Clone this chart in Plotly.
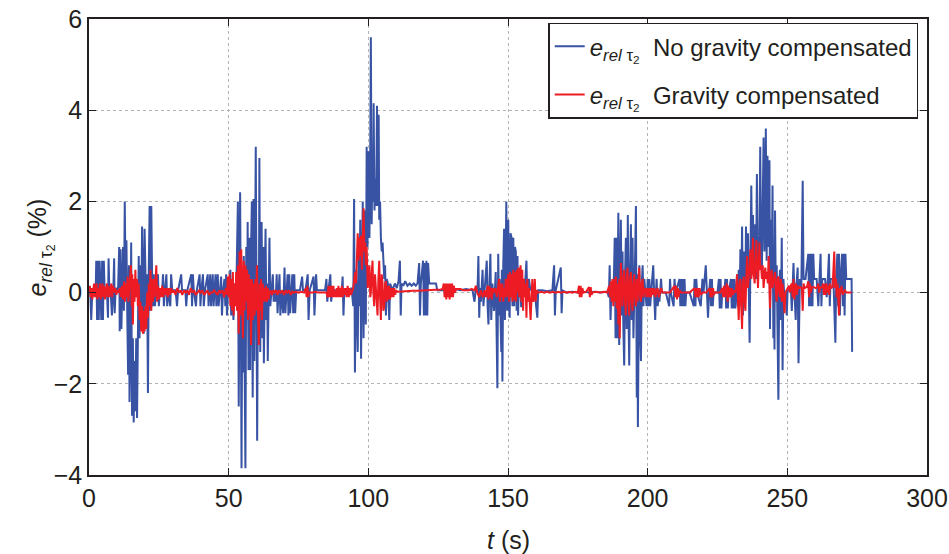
import plotly.graph_objects as go

# e_rel tau2 (%) without gravity compensation, (t [s], value)
blue_0_50 = [(0.0, 0.05), (0.4, 0.1), (0.8, -0.6), (1.2, 0.05), (1.8, 0.1), (2.4, 0.05), (2.6, 0.7), (2.9, -0.6),
             (3.2, 0.7), (3.5, -0.6), (3.8, 0.7), (4.1, 0.05), (4.4, -0.6), (4.7, 0.7), (5.0, -0.6), (5.3, 0.7),
             (5.6, 0.05), (6.0, 0.1), (6.4, 0.05), (6.8, -0.55), (7.0, 0.75), (7.3, 0.05), (7.7, 0.1), (8.2, -0.5),
             (8.7, 0.05), (9.0, 0.75), (9.2, -0.45), (9.5, 0.05), (9.9, 0.1), (10.4, 0.05), (10.8, 1.0), (11.0, -0.85),
             (11.3, 0.95), (11.6, -0.8), (11.9, 0.3), (12.2, 1.0), (12.5, -0.4), (12.8, 2.0), (13.1, 0.2), (13.4, 1.15),
             (13.7, -0.5), (14.0, -1.8), (14.3, 0.6), (14.5, -2.4), (14.8, -1.2), (15.1, 1.1), (15.4, -2.7), (15.7, -1.0),
             (16.0, -2.85), (16.3, -1.5), (16.6, -2.6), (16.9, -1.0), (17.2, -2.75), (17.5, -0.7), (17.8, 0.8), (18.1, -1.0),
             (18.4, 0.6), (18.7, -0.8), (19.0, 1.45), (19.3, 0.2), (19.6, -0.9), (19.9, 1.4), (20.2, 0.3), (20.5, -0.5),
             (20.8, 0.4), (21.1, -2.2), (21.4, 0.5), (21.7, 1.9), (22.0, -0.4), (22.3, 1.9), (22.6, 0.3), (22.9, -0.3),
             (23.2, 0.4), (23.6, -0.3), (24.0, 0.05), (24.4, 0.05), (24.7, 0.4), (25.0, -0.3), (25.4, 0.05), (26.2, 0.05),
             (26.5, 0.4), (26.8, -0.3), (27.2, 0.05), (27.7, 0.4), (28.0, -0.3), (28.4, 0.05), (29.1, -0.3), (29.4, 0.4),
             (29.8, 0.05), (31.0, 0.05), (31.5, -0.3), (31.9, 0.05), (33.0, 0.4), (33.3, 0.05), (34.5, 0.05), (34.8, -0.3),
             (35.2, 0.05), (36.6, 0.4), (36.9, -0.3), (37.2, 0.4), (37.5, 0.05), (38.3, -0.3), (38.6, 0.05), (39.6, 0.4),
             (39.9, -0.3), (40.2, 0.05), (40.8, 0.4), (41.1, -0.3), (41.5, 0.05), (42.5, 0.4), (42.8, -0.3), (43.1, 0.05),
             (43.4, 0.4), (43.7, -0.3), (44.0, 0.05), (44.3, 0.4), (44.6, -0.3), (45.0, 0.05), (45.3, 0.4), (45.6, -0.3),
             (45.9, 0.05), (46.1, 0.4), (46.4, -0.3), (46.8, 0.05), (47.3, 0.35), (47.6, -0.5), (48.0, 0.05), (48.5, 0.3),
             (48.8, -0.3), (49.1, 0.4), (49.4, -0.5), (49.8, 0.05)]

blue_50_83 = [(50.2, 0.05), (50.6, 0.5), (50.9, -0.5), (51.3, 0.3), (51.7, -0.6), (52.1, 0.2), (52.5, -0.2), (52.9, 0.6),
              (53.3, 2.0), (53.6, -2.5), (53.9, -0.3), (54.1, 2.2), (54.4, -1.0), (54.6, -3.85), (54.9, 0.5), (55.1, -1.75),
              (55.4, 0.8), (55.7, -1.2), (56.0, -3.85), (56.3, 1.0), (56.6, -0.5), (56.8, 1.55), (57.1, -1.7), (57.4, 1.2),
              (57.7, -1.7), (58.0, 0.9), (58.3, 2.0), (58.6, -2.3), (58.9, 2.05), (59.2, -1.5), (59.5, 1.0), (59.7, 3.2),
              (60.0, -0.5), (60.2, -3.25), (60.5, 0.6), (60.8, -0.8), (61.0, 2.95), (61.3, -1.3), (61.6, 0.8), (61.8, 1.55),
              (62.1, -1.0), (62.4, 1.0), (62.6, -1.55), (62.9, 0.3), (63.2, 1.4), (63.5, -0.6), (63.8, 0.2), (64.0, -1.5),
              (64.3, 0.3), (64.6, 1.2), (64.9, -0.3), (65.3, 0.1), (65.8, 0.4), (66.1, -0.2), (66.5, 0.05), (66.8, -0.2),
              (67.2, 0.4), (67.5, -0.45), (67.9, 0.05), (68.2, 0.4), (68.5, -0.5), (68.9, 0.05), (69.5, -0.45), (70.0, 0.55),
              (70.3, -0.45), (70.7, 0.05), (71.1, 0.4), (71.4, -0.5), (71.7, 0.4), (72.0, -0.45), (72.4, 0.05), (72.8, 0.4),
              (73.1, -0.45), (73.5, 0.4), (73.8, -0.45), (74.2, 0.05), (75.5, 0.05), (76.3, 0.35), (76.6, 0.05), (77.5, 0.05),
              (78.3, 0.4), (78.6, -0.6), (79.0, 0.05), (80.4, 0.35), (80.7, -0.5), (81.0, 0.05), (81.3, 0.4), (81.6, 0.05),
              (83.0, 0.05)]

blue_83_128 = [(84.5, 0.05), (85.0, 0.3), (85.3, -0.2), (85.7, 0.05), (86.4, 0.4), (86.7, -0.2), (87.1, 0.05), (88.5, 0.05),
               (90.5, 0.05), (90.8, 0.35), (91.1, -0.5), (91.4, 0.05), (93.0, 0.05), (94.0, 0.1), (94.6, -0.3), (94.9, 2.05),
               (95.2, -1.75), (95.6, 0.5), (95.9, -0.6), (96.2, -1.3), (96.5, 0.8), (96.8, -0.3), (97.1, 1.6), (97.4, -1.45),
               (97.7, 0.5), (98.0, 2.0), (98.3, -1.0), (98.6, 1.8), (98.9, 0.2), (99.1, -0.7), (99.4, 3.2), (99.7, 1.0),
               (100.1, 3.1), (100.4, 1.2), (100.7, 3.3), (100.9, 5.6), (101.2, 1.5), (101.5, 3.0), (101.7, 2.0), (101.9, 4.15),
               (102.2, 1.8), (102.5, 2.5), (102.8, 1.9), (103.1, 4.1), (103.4, 1.9), (103.7, 3.9), (103.9, 1.6), (104.2, 2.0),
               (104.5, 1.2), (104.8, 0.9), (105.1, 1.1), (105.4, 0.8), (105.7, 0.3), (106.0, 0.6), (106.3, -0.5), (106.6, 0.3),
               (107.0, 0.2), (107.5, -0.6), (107.8, 0.2), (108.1, 0.15), (108.6, 0.05), (109.5, 0.2), (110.2, 0.1), (110.8, 0.25),
               (111.3, 0.7), (111.6, -0.5), (111.9, 0.2), (112.5, 0.15), (113.2, 0.25), (114.0, 0.15), (114.8, 0.2), (115.5, 0.15),
               (116.3, 0.2), (117.0, 0.15), (117.6, 0.2), (118.2, 0.65), (118.5, -0.5), (118.8, 0.2), (119.6, 0.7), (119.9, -0.5),
               (120.2, 0.65), (120.5, -0.5), (120.8, 0.7), (121.1, -0.5), (121.4, 0.65), (121.8, 0.2), (122.5, 0.2), (123.3, 0.2),
               (124.2, 0.2), (124.7, 0.05), (126.0, 0.05), (127.5, 0.05)]

blue_128_175 = [(129.0, 0.05), (131.0, 0.08), (133.0, 0.05), (135.0, 0.08), (137.3, 0.05), (138.0, -0.2), (138.5, 0.1),
                (139.1, 0.05), (139.4, 0.8), (139.7, -0.55), (140.0, 0.1), (140.3, -0.2), (140.9, 0.5), (141.2, -0.3),
                (141.6, 0.1), (142.1, 0.5), (142.4, 0.7), (142.7, -0.3), (143.0, -0.7), (143.4, 0.3), (143.7, 0.85),
                (144.0, -0.6), (144.4, 0.2), (145.0, -0.4), (145.3, 0.3), (145.6, 0.45), (145.9, -0.8), (146.2, -2.1),
                (146.5, 0.85), (146.8, -0.5), (147.0, 0.3), (147.3, -0.9), (147.6, -1.3), (147.8, 0.5), (148.0, -1.95),
                (148.3, 0.6), (148.6, 1.4), (148.9, -0.6), (149.2, 1.6), (149.4, 2.0), (149.7, -0.4), (150.1, 1.6),
                (150.3, -0.2), (150.6, -0.55), (150.9, 1.3), (151.3, 1.2), (151.6, -0.3), (151.9, 1.2), (152.2, -0.3),
                (152.5, 1.0), (152.8, 0.9), (153.1, -0.4), (153.4, 0.8), (153.6, -0.5), (154.0, 0.5), (154.3, 0.4),
                (154.7, -0.3), (155.1, -0.3), (155.5, 0.3), (156.0, 0.05), (156.6, 0.7), (156.9, -0.1), (157.5, 0.3),
                (158.0, 0.05), (158.7, 0.1), (159.5, 0.05), (160.5, -0.55), (160.8, 0.05), (162.3, 0.05), (164.0, 0.03),
                (165.9, 0.05), (166.5, 0.6), (166.8, -0.5), (167.1, 0.05), (168.9, 0.55), (169.2, -0.45), (169.5, 0.05),
                (171.0, 0.0), (173.0, 0.02), (175.0, 0.0)]

blue_175_225 = [(177.0, 0.02), (179.0, 0.0), (181.0, 0.02), (183.0, 0.0), (185.6, 0.02), (186.1, -0.1), (186.4, 0.6),
                (186.7, -0.6), (187.0, 0.05), (187.4, -0.1), (187.9, 0.3), (188.2, 1.2), (188.5, -1.0), (188.8, 1.2),
                (189.1, -1.0), (189.5, 1.75), (189.8, -1.15), (190.1, 0.6), (190.4, 1.6), (190.7, -0.5), (191.0, 0.9),
                (191.3, -0.8), (191.6, -1.6), (191.9, 0.4), (192.2, 1.2), (192.5, -0.8), (192.9, 1.7), (193.1, -0.3),
                (193.4, -1.6), (193.7, 0.5), (194.0, 1.5), (194.3, -0.6), (194.6, 1.2), (194.9, -1.0), (195.2, -0.3),
                (195.5, 0.8), (195.8, 1.9), (196.1, -2.3), (196.3, 0.4), (196.5, -2.95), (196.8, -0.5), (197.0, 0.6),
                (197.3, -0.8), (197.6, -1.5), (197.9, 0.2), (198.2, 0.6), (198.5, -0.3), (198.8, 0.3), (199.2, 0.0),
                (199.6, -0.3), (200.0, 0.3), (200.3, -0.3), (200.6, 0.3), (200.9, -0.3), (201.3, 0.05), (202.0, 0.6),
                (202.3, 0.0), (202.7, -0.6), (203.0, 0.05), (203.2, 0.3), (203.6, -0.3), (204.0, 0.05), (204.2, -0.2),
                (204.8, 0.3), (205.1, 0.0), (206.5, 0.0), (207.7, -0.3), (208.0, 0.3), (208.3, 0.0), (209.3, -0.3),
                (209.6, 0.3), (210.0, 0.0), (211.4, 0.3), (211.7, -0.3), (212.0, 0.3), (212.3, -0.3), (212.6, 0.3),
                (212.9, -0.3), (213.2, 0.3), (213.5, -0.3), (213.8, 0.0), (215.0, 0.0), (216.5, -0.3), (216.8, 0.3),
                (217.1, -0.3), (217.4, 0.3), (217.7, 0.0), (219.0, -0.3), (219.6, 0.3), (220.0, 0.0), (220.8, 0.6),
                (221.2, 0.0), (221.6, -0.55), (222.0, 0.0), (222.4, 0.3), (222.7, -0.3), (223.0, 0.3), (223.3, -0.3),
                (223.6, 0.0), (225.0, 0.0)]

blue_225_274 = [(225.5, 0.3), (225.8, -0.35), (226.1, 0.3), (226.4, -0.35), (226.7, 0.0), (227.5, 0.0), (227.8, 0.3),
                (228.1, -0.35), (228.4, 0.3), (228.7, -0.35), (229.0, 0.0), (229.8, 0.3), (230.1, -0.35), (230.4, 0.3),
                (230.7, -0.35), (231.0, 0.3), (231.4, -0.35), (231.7, 0.0), (232.0, 0.4), (232.3, -0.3), (232.6, 0.5),
                (232.9, -0.3), (233.2, 0.95), (233.5, -0.15), (233.8, 1.45), (234.1, -0.5), (234.4, 0.9), (234.7, -0.3),
                (235.0, 0.2), (235.2, 1.45), (235.5, 0.2), (235.9, 1.3), (236.2, 0.0), (236.5, -1.1), (236.8, 0.8),
                (237.1, 2.35), (237.4, 0.6), (237.7, 1.7), (238.0, 0.4), (238.5, 1.5), (238.8, 0.3), (239.1, 2.6),
                (239.4, 0.5), (239.7, 0.6), (240.0, 1.2), (240.3, 3.2), (240.6, 0.8), (240.9, 0.5), (241.2, 2.0),
                (241.5, 3.4), (241.8, 0.9), (242.1, 1.5), (242.3, 3.6), (242.6, 0.7), (242.9, 3.0), (243.1, 1.5),
                (243.3, 1.0), (243.6, 2.9), (243.8, -0.8), (244.1, 1.6), (244.4, 0.2), (244.7, 2.35), (245.0, -1.0),
                (245.2, 1.0), (245.4, -1.25), (245.6, 1.8), (245.9, -0.2), (246.2, 0.6), (246.5, -0.8), (246.8, -2.35),
                (247.1, 0.2), (247.4, 0.5), (247.7, -0.6), (248.0, 1.2), (248.3, -1.7), (248.6, 0.3), (249.0, -0.2),
                (249.4, 0.0), (249.8, -0.5), (250.1, 0.05), (250.8, 0.05), (251.3, 0.05), (251.6, -0.4), (251.9, 0.1),
                (252.2, 0.65), (252.5, 0.05), (253.0, -0.6), (253.3, 0.2), (253.7, 0.55), (254.0, -1.55), (254.3, 0.1),
                (254.5, 0.3), (255.0, 0.1), (255.5, 2.45), (255.8, 0.3), (256.5, 0.3), (257.5, 0.85), (257.8, -0.3),
                (258.1, 0.85), (258.4, -0.3), (258.7, 0.85), (259.0, -0.3), (259.3, 0.85), (259.6, 0.3), (260.5, 0.3),
                (261.1, -0.3), (261.5, 0.3), (261.9, 0.85), (262.2, -0.3), (262.5, 0.3), (263.5, 0.3), (264.1, -0.1),
                (264.5, 0.3), (264.9, 0.85), (265.2, -0.3), (265.5, 0.3), (266.5, 0.3), (267.2, -1.1), (267.5, 0.3),
                (267.9, 0.85), (268.2, -0.3), (268.5, 0.85), (268.8, -0.5), (269.1, 0.3), (269.6, 0.85), (269.9, -0.3),
                (270.2, 0.85), (270.5, -0.5), (270.8, 0.85), (271.1, 0.3), (272.0, 0.3), (273.0, 0.3), (273.2, -1.3)]

# e_rel tau2 (%) with gravity compensation
red_0_50 = [(0.0, 0.0), (0.3, 0.15), (0.6, -0.1), (0.9, 0.1), (1.2, -0.15), (1.5, 0.05), (1.8, 0.2), (2.1, -0.1),
            (2.4, 0.05), (2.7, 0.2), (3.0, -0.15), (3.3, 0.1), (3.6, -0.1), (3.9, 0.2), (4.2, -0.15), (4.5, 0.05),
            (4.8, 0.2), (5.1, -0.1), (5.4, 0.15), (5.7, -0.15), (6.0, 0.05), (6.4, 0.2), (6.7, -0.1), (7.0, 0.15),
            (7.3, -0.1), (7.6, 0.05), (8.0, 0.2), (8.3, -0.1), (8.6, 0.15), (9.0, 0.0), (9.4, 0.1), (9.8, -0.05),
            (10.2, 0.05), (10.6, 0.0), (11.0, 0.1), (11.4, -0.1), (11.8, 0.15), (12.2, -0.15), (12.6, 0.25), (12.9, -0.2),
            (13.2, 0.2), (13.5, -0.1), (13.8, 0.35), (14.1, -0.2), (14.4, 0.1), (14.7, 0.5), (15.0, 0.6), (15.3, -0.3),
            (15.5, 0.4), (15.7, -0.7), (16.0, 0.3), (16.3, -0.2), (16.6, 0.5), (16.9, -0.1), (17.2, 0.3), (17.5, -0.3),
            (17.8, 0.2), (18.1, -0.6), (18.4, -0.2), (18.7, -0.85), (19.0, -0.3), (19.3, -0.9), (19.6, -0.4), (19.9, -0.85),
            (20.2, -0.3), (20.5, -0.8), (20.8, 0.0), (21.1, -0.55), (21.4, 0.2), (21.7, -0.3), (22.0, 0.5), (22.3, -0.4),
            (22.6, 0.3), (22.9, -0.2), (23.2, 0.3), (23.5, -0.1), (23.8, 0.2), (24.1, 0.6), (24.4, -0.2), (24.7, 0.15),
            (25.0, -0.15), (25.4, 0.1), (25.8, -0.1), (26.2, 0.15), (26.6, -0.1), (27.0, 0.1), (27.4, -0.05), (27.8, 0.1),
            (28.2, -0.1), (28.6, 0.1), (29.0, -0.05), (29.4, 0.1), (29.8, 0.0), (30.4, 0.05), (31.0, -0.05), (31.6, 0.1),
            (32.2, 0.0), (32.8, 0.05), (33.4, -0.05), (34.0, 0.05), (34.6, 0.0), (35.2, 0.05), (35.8, -0.05), (36.4, 0.1),
            (37.0, 0.0), (37.6, 0.05), (38.2, -0.05), (38.8, 0.0), (39.4, 0.05), (40.0, 0.0), (40.6, 0.05), (41.2, -0.05),
            (41.8, 0.0), (42.4, 0.05), (43.0, -0.05), (43.6, 0.0), (44.2, 0.0), (44.8, 0.05), (45.4, 0.0), (46.0, -0.05),
            (46.6, 0.05), (47.2, 0.0), (47.8, 0.05), (48.4, -0.1), (49.0, 0.1), (49.4, -0.05), (49.7, 0.35)]

red_50_95 = [(50.0, -0.1), (50.3, 0.4), (50.6, -0.3), (50.9, 0.3), (51.2, -0.4), (51.5, 0.45), (51.8, -0.5), (52.1, 0.2),
             (52.4, -0.3), (52.7, 0.45), (53.0, -0.4), (53.3, 0.6), (53.6, -0.9), (53.9, 0.9), (54.2, -0.5), (54.5, 0.95),
             (54.8, -0.3), (55.1, -1.0), (55.4, 0.7), (55.7, -0.4), (56.0, 0.6), (56.3, -0.2), (56.6, 0.5), (56.9, -0.6),
             (57.2, 0.4), (57.4, -0.5), (57.7, 0.3), (58.0, -1.15), (58.3, 0.3), (58.6, -0.6), (58.9, 0.2), (59.3, -0.5),
             (59.6, 0.3), (59.9, -0.4), (60.1, 0.6), (60.4, -0.3), (60.8, -1.15), (61.1, 0.2), (61.4, -0.4), (61.6, 0.3),
             (61.9, -0.6), (62.2, 0.2), (62.5, -0.2), (62.8, 0.1), (63.1, -0.2), (63.4, 0.15), (63.7, -0.2), (64.0, 0.1),
             (64.3, -0.15), (64.6, 0.0), (65.0, 0.05), (65.5, -0.05), (66.0, 0.05), (66.5, 0.0), (67.0, 0.05), (67.5, -0.05),
             (68.0, 0.05), (68.6, 0.0), (69.2, 0.05), (69.8, -0.05), (70.4, 0.05), (71.0, 0.0), (71.6, 0.05), (72.2, -0.05),
             (72.8, 0.02), (73.4, 0.0), (74.0, 0.02), (75.0, 0.0), (76.0, 0.02), (77.0, 0.0), (77.6, 0.1), (77.9, -0.1),
             (78.2, 0.15), (78.5, -0.1), (78.8, 0.0), (80.0, 0.0), (81.0, 0.02), (82.0, 0.0), (83.0, 0.0), (84.0, 0.0),
             (85.0, 0.0), (85.4, -0.1), (85.7, 0.15), (86.0, -0.1), (86.3, 0.15), (86.6, -0.1), (86.9, 0.15), (87.2, -0.1),
             (87.5, 0.15), (87.8, -0.1), (88.1, 0.05), (88.4, -0.1), (88.7, 0.1), (89.0, -0.1), (89.3, 0.15), (89.6, -0.1),
             (89.9, 0.1), (90.2, -0.1), (90.5, 0.15), (90.8, -0.1), (91.1, 0.1), (91.4, -0.05), (91.8, 0.1), (92.2, -0.1),
             (92.6, 0.15), (93.0, -0.1), (93.4, 0.1), (93.8, -0.05), (94.2, 0.05), (94.6, 0.1), (95.0, 0.3)]

red_95_160 = [(95.3, 0.45), (95.6, 0.2), (95.9, 1.0), (96.2, 1.3), (96.5, 0.7), (96.8, 1.2), (97.1, 0.8), (97.4, 1.25),
              (97.7, 0.5), (98.0, 1.4), (98.3, 1.85), (98.6, 0.9), (98.9, 1.1), (99.1, 0.6), (99.4, 1.0), (99.8, 0.1),
              (100.1, 0.5), (100.4, 0.6), (100.7, -0.1), (100.9, 0.0), (101.2, 0.4), (101.5, 0.7), (101.8, 0.0), (102.1, -0.3),
              (102.4, 0.4), (102.7, 0.15), (103.0, -0.2), (103.3, -0.5), (103.6, 0.3), (103.9, 0.7), (104.2, -0.1),
              (104.5, -0.6), (104.8, 0.4), (105.1, 0.2), (105.4, -0.4), (105.7, -0.3), (106.0, 0.2), (106.3, 0.25),
              (106.6, -0.2), (106.9, 0.15), (107.2, -0.15), (107.5, 0.15), (107.8, -0.15), (108.1, 0.1), (108.4, -0.1),
              (108.7, 0.1), (109.0, -0.1), (109.3, 0.1), (109.6, -0.05), (109.9, 0.05), (110.4, 0.02), (112.0, 0.03),
              (114.0, 0.03), (116.0, 0.04), (118.0, 0.04), (120.0, 0.05), (122.0, 0.05), (124.0, 0.06), (125.4, 0.06),
              (126.6, 0.08), (127.0, 0.2), (127.3, -0.1), (127.6, 0.2), (127.9, -0.15), (128.2, 0.2), (128.5, -0.1),
              (128.8, 0.2), (129.1, -0.15), (129.4, 0.2), (129.7, -0.1), (130.0, 0.2), (130.3, -0.1), (130.6, 0.15),
              (131.0, 0.0), (131.5, 0.08), (133.0, 0.08), (134.0, 0.05), (135.0, 0.05), (136.0, 0.05), (137.0, 0.08),
              (138.0, 0.05), (138.5, 0.15), (139.0, 0.0), (139.7, -0.1), (140.3, 0.05), (141.0, -0.1), (141.6, 0.05),
              (142.1, -0.1), (142.7, 0.15), (143.0, -0.15), (143.3, 0.15), (143.6, -0.1), (143.9, 0.1), (144.2, -0.15),
              (144.5, 0.1), (145.0, 0.0), (145.5, 0.1), (146.0, -0.1), (146.4, 0.2), (146.8, 0.3), (147.1, -0.2),
              (147.4, 0.2), (147.7, -0.1), (148.0, 0.2), (148.3, -0.2), (148.6, 0.1), (148.9, -0.1), (149.2, 0.3),
              (149.5, -0.1), (149.8, 0.2), (150.1, 0.4), (150.4, -0.2), (150.7, 0.45), (151.0, -0.1), (151.3, 0.4),
              (151.6, -0.2), (151.9, 0.5), (152.2, -0.15), (152.5, 0.45), (152.8, -0.2), (153.1, 0.5), (153.4, 0.0),
              (153.7, 0.55), (154.0, -0.1), (154.3, 0.4), (154.5, 0.6), (154.8, -0.2), (155.1, 0.5), (155.4, -0.4),
              (155.7, 0.3), (156.0, -0.1), (156.3, 0.2), (156.6, -0.55), (156.9, 0.3), (157.2, -0.2), (157.5, 0.1),
              (158.1, -0.6), (158.4, 0.1), (158.7, 0.3), (159.0, -0.2), (159.3, -0.1), (159.6, 0.3), (159.9, -0.2),
              (160.2, 0.05)]

red_160_226 = [(160.8, 0.0), (162.0, 0.02), (163.0, 0.0), (164.0, 0.02), (165.0, 0.0), (166.0, 0.02), (167.0, 0.0),
               (168.0, 0.02), (169.0, 0.0), (170.0, 0.02), (171.0, 0.0), (172.0, 0.02), (173.0, 0.0), (174.0, 0.02),
               (175.0, 0.0), (175.4, 0.15), (175.7, -0.1), (176.0, 0.15), (176.3, -0.1), (176.6, 0.1), (177.0, 0.0),
               (178.0, 0.02), (179.0, 0.12), (179.3, -0.1), (179.6, 0.12), (179.9, -0.05), (180.2, 0.0), (181.5, 0.02),
               (183.0, 0.0), (184.5, 0.02), (185.5, 0.0), (186.2, 0.15), (186.5, -0.1), (186.8, 0.25), (187.1, -0.2),
               (187.4, 0.3), (187.7, -0.3), (188.0, 0.3), (188.3, -0.2), (188.6, 0.35), (188.9, -0.35), (189.2, 0.2),
               (189.5, -0.7), (189.8, 0.3), (190.0, -1.0), (190.4, 0.65), (190.7, -0.2), (191.0, -0.3), (191.3, 0.3),
               (191.6, 0.5), (191.9, -0.2), (192.2, -0.5), (192.5, 0.3), (192.8, 0.55), (193.1, -0.2), (193.4, -0.5),
               (193.7, 0.3), (194.0, 0.45), (194.3, -0.2), (194.6, -0.4), (194.9, 0.2), (195.2, 0.4), (195.5, -0.1),
               (195.8, -0.3), (196.1, 0.3), (196.4, -0.2), (196.7, 0.3), (197.0, 0.55), (197.3, -0.1), (197.6, -0.2),
               (197.9, 0.2), (198.2, 0.3), (198.5, -0.1), (198.8, 0.05), (199.2, 0.1), (199.6, -0.1), (200.0, 0.1),
               (200.4, -0.1), (200.8, 0.1), (201.2, -0.1), (201.6, 0.1), (202.0, -0.05), (202.4, 0.1), (202.8, -0.1),
               (203.2, 0.05), (203.6, 0.1), (204.0, -0.1), (204.4, 0.05), (204.8, 0.1), (205.3, 0.0), (206.5, 0.0),
               (208.0, 0.0), (209.6, 0.15), (209.9, -0.1), (210.2, 0.15), (210.5, -0.15), (210.8, 0.1), (211.1, -0.1),
               (211.4, 0.05), (212.0, 0.0), (213.5, 0.0), (215.0, 0.0), (216.8, 0.1), (217.1, -0.1), (217.4, 0.1),
               (217.7, -0.1), (218.0, 0.1), (218.3, -0.1), (218.6, 0.1), (219.0, -0.05), (219.8, 0.0), (221.0, 0.0),
               (222.2, 0.1), (222.5, -0.1), (222.8, 0.1), (223.1, -0.1), (223.4, 0.1), (223.7, -0.05), (224.0, 0.0),
               (225.0, 0.0), (226.0, 0.0)]

red_226_273 = [(226.7, 0.1), (227.0, -0.1), (227.3, 0.15), (227.6, -0.1), (228.0, 0.05), (228.3, 0.2), (228.6, -0.2),
               (228.9, 0.15), (229.2, -0.1), (229.5, 0.1), (229.8, -0.1), (230.1, 0.1), (230.5, -0.05), (231.0, 0.05),
               (231.4, 0.0), (231.7, 0.1), (232.0, 0.4), (232.3, -0.2), (232.6, -0.6), (232.9, 0.2), (233.2, 0.3),
               (233.5, -0.3), (233.8, -0.8), (234.1, 0.2), (234.4, 0.35), (234.7, -0.2), (235.0, -0.4), (235.3, 0.3),
               (235.6, 0.8), (235.9, 0.1), (236.2, 0.3), (236.5, 0.6), (236.8, 0.95), (237.1, 0.3), (237.4, 0.5),
               (237.7, 1.2), (238.0, 0.4), (238.3, 0.2), (238.6, 0.6), (238.9, 1.15), (239.2, 0.5), (239.5, 0.1),
               (239.8, 0.7), (240.0, 1.1), (240.3, 0.5), (240.6, 0.6), (240.9, 0.3), (241.2, 0.6), (241.5, 0.1),
               (241.8, 0.5), (242.1, 0.55), (242.4, 0.3), (242.7, 0.45), (243.0, 0.2), (243.3, 0.8), (243.6, 0.1),
               (243.8, -0.35), (244.1, 0.4), (244.4, 0.5), (244.7, 0.1), (245.0, 0.2), (245.3, 0.35), (245.6, 0.45),
               (245.9, 0.0), (246.2, -0.2), (246.5, 0.3), (246.8, 0.35), (247.1, 0.0), (247.4, -0.1), (247.7, 0.3),
               (248.0, -0.2), (248.3, 0.2), (248.6, -0.1), (249.0, -0.45), (249.3, 0.0), (249.8, 0.05), (250.2, 0.1),
               (250.6, 0.15), (250.9, 0.0), (251.2, 0.15), (251.6, 0.2), (251.9, -0.1), (252.2, 0.3), (252.5, -0.15),
               (252.8, 0.05), (253.1, 0.2), (253.4, -0.05), (253.8, 0.15), (254.2, 0.1), (254.6, 0.12), (255.2, 0.1),
               (255.5, -0.4), (255.8, 0.2), (256.2, 0.1), (257.0, 0.12), (257.5, 0.25), (257.8, -0.1), (258.1, 0.2),
               (258.4, 0.0), (258.8, 0.12), (259.5, 0.12), (260.2, 0.1), (260.8, 0.12), (261.1, 0.2), (261.4, 0.0),
               (261.8, 0.12), (262.5, 0.12), (262.8, 0.2), (263.1, -0.05), (263.4, 0.2), (263.7, -0.05), (264.0, 0.2),
               (264.3, 0.0), (264.6, 0.15), (265.0, -0.05), (265.2, 0.2), (265.6, 0.1), (266.2, 0.12), (266.8, 0.9),
               (267.1, 0.1), (267.4, 0.3), (267.7, -0.1), (268.0, 0.2), (268.5, -0.5), (268.8, 0.1), (269.1, 0.0),
               (269.4, 0.15), (269.8, -0.05), (270.2, 0.0), (270.6, 0.05), (271.2, 0.0), (272.0, 0.0), (273.0, 0.0)]

blue = blue_0_50 + blue_50_83 + blue_83_128 + blue_128_175 + blue_175_225 + blue_225_274
red = red_0_50 + red_50_95 + red_95_160 + red_160_226 + red_226_273

sub = "<i>e</i><sub><i>rel</i> τ<sub>2</sub></sub>"
font = "Liberation Sans, Arial, Helvetica, sans-serif"
ink = "#231f20"

fig = go.Figure()
fig.add_trace(go.Scatter(x=[p[0] for p in blue], y=[p[1] for p in blue], mode="lines",
                         line=dict(color="rgb(56,83,164)", width=2), legendgroup="a",
                         name=sub + "  No gravity compensated"))
fig.add_trace(go.Scatter(x=[p[0] for p in red], y=[p[1] for p in red], mode="lines",
                         line=dict(color="rgb(237,28,36)", width=2), legendgroup="b",
                         name=sub + "  Gravity compensated"))

axis = dict(showline=True, linecolor=ink, linewidth=1.5, mirror="ticks",
            ticks="inside", ticklen=7, tickcolor=ink, tickwidth=1,
            showgrid=True, gridcolor="#b4b4b4", griddash="dot", gridwidth=1,
            zeroline=False, automargin=False,
            tickfont=dict(family=font, size=25, color=ink))

fig.update_xaxes(range=[0, 300], tickvals=[0, 50, 100, 150, 200, 250, 300], **axis)
fig.update_yaxes(range=[-4, 6], tickvals=[-4, -2, 0, 2, 4, 6], **axis)

# axis titles as annotations so they sit where the original puts them
fig.add_annotation(text="<i>t</i> (s)", xref="paper", yref="paper", x=0.5, y=-0.143,
                   xanchor="center", yanchor="middle", showarrow=False,
                   font=dict(family=font, size=25, color=ink))
fig.add_annotation(text=sub + " (%)", xref="paper", yref="paper", x=-0.058, y=0.5,
                   xanchor="center", yanchor="middle", textangle=-90, showarrow=False,
                   font=dict(family=font, size=25, color=ink))

fig.update_layout(
    width=949, height=554,
    margin=dict(l=89, r=22, t=19, b=79),
    paper_bgcolor="white", plot_bgcolor="white",
    font=dict(family=font, color=ink),
    showlegend=True,
    legend=dict(x=0.548, y=0.992, xanchor="left", yanchor="top",
                bgcolor="white", bordercolor=ink, borderwidth=1.5,
                font=dict(family=font, size=24, color=ink),
                tracegroupgap=14, itemwidth=30),
)

fig.write_html("out.html", config={"displayModeBar": False},
               post_script="document.body.style.margin='0';")
